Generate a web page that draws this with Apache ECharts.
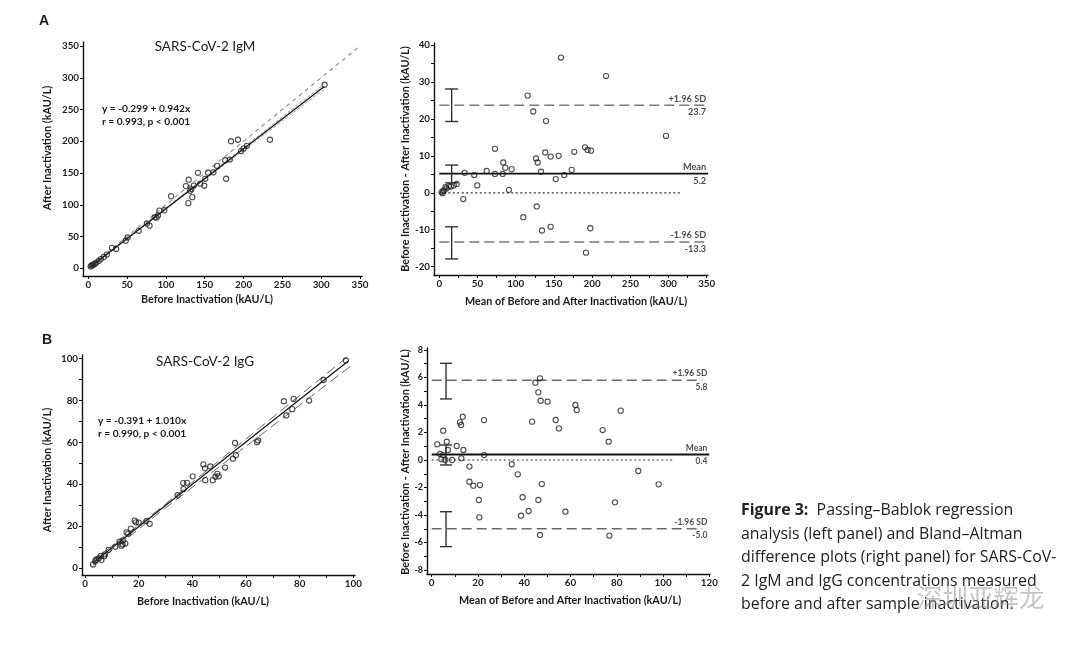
<!DOCTYPE html>
<html><head><meta charset="utf-8">
<script src="https://cdn.jsdelivr.net/npm/echarts@6/dist/echarts.min.js"></script>
<style>html,body{margin:0;padding:0;background:#fff}#c{width:1080px;height:646px}</style>
</head><body><div id="c"></div>
<script>
// ---------- IgM (panel A) ----------
const igmRegBefore = [3.1,4.4,5.5,6.8,8.8,10.3,13.4,16.2,20.0,24.0,30.6,35.9,48.2,50.7,65.0,78.9,75.5,85.6,87.9,89.8,91.6,97.9,106.7,128.9,134.0,131.3,125.7,132.9,136.0,129.3,144.2,149.4,150.7,141.2,154.3,161.2,177.6,166.0,176.4,182.3,196.9,183.9,200.0,192.8,204.3,234.0,304.4];
const igmRegAfter  = [2.9,4.5,5.0,6.2,7.3,9.1,11.6,14.5,18.0,21.6,32.3,30.5,43.4,48.7,59.1,67.0,70.4,80.5,79.7,83.0,90.8,91.5,113.3,102.6,112.0,122.0,129.4,124.7,130.3,139.5,133.3,130.0,140.9,150.4,150.6,151.2,141.0,161.2,170.2,171.2,184.6,200.1,188.4,202.4,192.9,202.4,289.0];
const igmBaMean = [3.0,4.4,5.2,6.5,8.0,9.7,12.5,15.3,19.0,22.8,31.4,33.2,45.8,49.7,62.0,72.9,72.9,83.0,83.8,86.4,91.2,94.7,110.0,115.7,123.0,126.6,127.5,128.8,133.1,134.4,138.7,139.7,145.8,145.8,152.4,156.2,159.3,163.6,173.3,176.7,190.7,192.0,194.2,197.6,198.6,218.2,296.7];
const igmBaDiff = [0.2,-0.1,0.5,0.6,1.5,1.2,1.8,1.7,2.0,2.4,-1.7,5.4,4.8,2.0,5.9,11.9,5.1,5.1,8.2,6.8,0.8,6.4,-6.6,26.3,22.0,9.3,-3.7,8.2,5.7,-10.2,10.9,19.4,9.8,-9.2,3.7,10.0,36.6,4.8,6.2,11.1,12.3,-16.2,11.6,-9.6,11.4,31.6,15.4];
const igmFitLine = [[3,2.5],[304,286.1]];
const igmIdentityLine = [[0,0],[350,350]];
const igmCiUpper = [[3,3.2],[150,142.5],[304,290]];
const igmCiLower = [[3,2.0],[150,139.8],[304,282]];
const igmLimitValues = [23.7, 5.2, -13.3];
const igmLimitNames = ['+1.96 SD','Mean','-1.96 SD'];
const igmErrorBars = [[16.2,19.3,28.1],[16.2,2.7,7.5],[16.2,-17.9,-9.2]];
const igmEquation = ['y = -0.299 + 0.942x','r = 0.993, p < 0.001'];

// ---------- IgG (panel B) ----------
const iggRegBefore = [49.8,47.6,48.6,49.3,52.2,64.1,64.5,83.5,44.8,55.1,56.2,75.0,77.2,24.1,15.0,13.6,14.0,6.1,3.0,7.2,11.3,14.1,22.9,34.5,36.7,16.1,15.5,17.1,20.0,46.7,19.0,38.0,44.7,18.5,36.6,40.1,55.9,77.7,44.1,74.1,88.9,97.2,5.1,7.4,4.2,5.9,8.8,12.9,3.8];
const iggRegAfter  = [43.8,42.0,43.6,45.0,48.0,60.1,60.9,79.9,42.0,52.2,53.9,72.8,75.8,21.2,11.8,10.8,11.4,3.9,1.8,5.8,10.3,13.3,22.5,34.8,37.7,16.5,17.1,18.9,21.8,48.5,21.9,40.7,47.6,22.7,40.6,43.8,59.7,80.7,49.5,79.6,89.7,99.0,4.7,6.6,4.2,5.9,8.8,12.7,3.4];
const iggBaMean = [46.8,44.8,46.1,47.1,50.1,62.1,62.7,81.7,43.4,53.6,55.0,73.9,76.5,22.6,13.4,12.2,12.7,5.0,2.4,6.5,10.8,13.7,22.7,34.6,37.2,16.3,16.3,18.0,20.9,47.6,20.4,39.3,46.1,20.6,38.6,41.9,57.8,79.2,46.8,76.8,89.3,98.1,4.9,7.0,4.2,5.9,8.8,12.8,3.6];
const iggBaDiff = [5.94,5.62,4.92,4.31,4.24,4.0,3.64,3.59,2.79,2.91,2.3,2.18,1.33,2.9,3.15,2.74,2.55,2.13,1.14,1.33,1.02,0.73,0.36,-0.31,-1.04,-0.48,-1.58,-1.87,-1.82,-1.75,-2.91,-2.71,-2.91,-4.17,-4.05,-3.71,-3.76,-3.08,-5.45,-5.5,-0.8,-1.77,0.36,0.73,0.05,0.0,0.0,0.12,0.44];
const iggFitLine = [[3,2.6],[98,98.6]];
const iggCiUpper = [[3,3.6],[30,30.6],[99,102.0]];
const iggCiLower = [[3,1.5],[30,28.8],[99,96.3]];
const iggLimitValues = [5.8, 0.4, -5.0];
const iggLimitNames = ['+1.96 SD','Mean','-1.96 SD'];
const iggErrorBars = [[6.2,4.44,7.03],[6.2,-0.36,1.09],[6.2,-6.3,-3.76]];
const iggEquation = ['y = -0.391 + 1.010x','r = 0.990, p < 0.001'];

// ---------- axis ticks / labels ----------
const igmRegTicks = [0,50,100,150,200,250,300,350];
const igmBaXLabels = [0,50,100,150,200,250,300,350];
const igmBaXTicks = [0,25,50,75,100,125,150,175,200,225,250,275,300,325,350];
const igmBaYLabels = [-20,-10,0,10,20,30,40];
const igmBaYTicks = [-20,-15,-10,-5,0,5,10,15,20,25,30,35,40];
const iggRegLabels = [0,20,40,60,80,100];
const iggRegTicks = [0,10,20,30,40,50,60,70,80,90,100];
const iggBaXLabels = [0,20,40,60,80,100,120];
const iggBaXTicks = [0,10,20,30,40,50,60,70,80,90,100,110,120];
const iggBaYLabels = [-8,-6,-4,-2,0,2,4,6,8];
const iggBaYTicks = [-8,-7,-6,-5,-4,-3,-2,-1,0,1,2,3,4,5,6,7,8];

const captionLines = ['{b|Figure 3:}  Passing\u2013Bablok regression','analysis (left panel) and Bland\u2013Altman','difference plots (right panel) for SARS-CoV-','2 IgM and IgG concentrations measured','before and after sample inactivation.'];

const FONT = 'Lato, "Open Sans", sans-serif';
const INK = '#1b1b1b';

function axis(gi, min, max, labels, ticks, fs) {
  return {
    type:'value', gridIndex:gi, min:min, max:max, scale:true,
    axisLine:{show:true, onZero:false, lineStyle:{color:'#111', width:1.4}},
    axisTick:{show:true, length:3, customValues:ticks, lineStyle:{color:'#111', width:1}},
    axisLabel:{customValues:labels, margin:4, fontSize:fs||9.8, fontWeight:'bold', fontFamily:FONT, color:INK},
    splitLine:{show:false}
  };
}
function zip(xs, ys){ return xs.map((x,i)=>[x, ys[i]]); }
function line(gi, data, color, width, type){
  return {type:'line', xAxisIndex:gi, yAxisIndex:gi, data:data, showSymbol:false, symbol:'none', silent:true,
    lineStyle:{color:color, width:width, type:type||'solid'}, z:2};
}
function scatter(gi, data){
  return {type:'scatter', xAxisIndex:gi, yAxisIndex:gi, data:data, symbol:'circle', symbolSize:5.2, silent:true,
    itemStyle:{color:'rgba(255,255,255,0)', borderColor:'#222', borderWidth:1.1}, z:5};
}
function errorBars(gi, data, half){
  return {type:'custom', xAxisIndex:gi, yAxisIndex:gi, data:data, silent:true, z:4,
    renderItem:function(params, api){
      const x = api.value(0), lo = api.value(1), hi = api.value(2);
      const a = api.coord([x, lo]), b = api.coord([x, hi]);
      const st = {stroke:'#333', lineWidth:1.4};
      return {type:'group', children:[
        {type:'line', shape:{x1:a[0],y1:a[1],x2:b[0],y2:b[1]}, style:st},
        {type:'line', shape:{x1:a[0]-half,y1:a[1],x2:a[0]+half,y2:a[1]}, style:st},
        {type:'line', shape:{x1:b[0]-half,y1:b[1],x2:b[0]+half,y2:b[1]}, style:st}
      ]};
    }};
}
function limitLabels(gi, xRight, values, names, fs){
  const data = [];
  values.forEach((v,i)=>{
    data.push({value:[xRight, v], label:{formatter:names[i], position:[0,-1.5], align:'right', verticalAlign:'bottom'}});
    data.push({value:[xRight, v], label:{formatter:v.toFixed(1), position:[0,3], align:'right', verticalAlign:'top'}});
  });
  return {type:'scatter', xAxisIndex:gi, yAxisIndex:gi, data:data, symbol:'circle', symbolSize:1, silent:true,
    itemStyle:{color:'rgba(0,0,0,0)'}, z:6,
    label:{show:true, fontSize:fs, fontFamily:FONT, fontWeight:'bold', color:INK}};
}
function hline(gi, x0, x1, v, color, width, type){ return line(gi, [[x0,v],[x1,v]], color, width, type); }

const series = [
  // A left
  line(0, igmIdentityLine, '#8a8a8a', 1.1, [4,4]),
  line(0, igmCiUpper, '#9a9a9a', 1, [3,2]),
  line(0, igmCiLower, '#9a9a9a', 1, [3,2]),
  line(0, igmFitLine, '#111', 1.2),
  scatter(0, zip(igmRegBefore, igmRegAfter)),
  // A right
  hline(1, 0, 315, 0, '#333', 1.2, [2,2.5]),
  hline(1, 0, 350, igmLimitValues[0], '#7a7a7a', 1.6, [10,5]),
  hline(1, 0, 352, igmLimitValues[1], '#111', 1.6),
  hline(1, 0, 350, igmLimitValues[2], '#7a7a7a', 1.6, [10,5]),
  errorBars(1, igmErrorBars, 6.5),
  scatter(1, zip(igmBaMean, igmBaDiff)),
  limitLabels(1, 350, igmLimitValues, igmLimitNames, 9.2),
  // B left
  line(2, iggCiUpper, '#666', 1, [10,5]),
  line(2, iggCiLower, '#666', 1, [10,5]),
  line(2, iggFitLine, '#111', 1.2),
  scatter(2, zip(iggRegBefore, iggRegAfter)),
  // B right
  hline(3, 0, 104, 0, '#333', 1.2, [2,2.5]),
  hline(3, 0, 117, iggLimitValues[0], '#6a6a6a', 1.3, [10,5]),
  hline(3, 0, 120, iggLimitValues[1], '#111', 1.8),
  hline(3, 0, 117, iggLimitValues[2], '#6a6a6a', 1.3, [10,5]),
  errorBars(3, iggErrorBars, 6),
  scatter(3, zip(iggBaMean, iggBaDiff)),
  limitLabels(3, 119.4, iggLimitValues, iggLimitNames, 8.5)
];

function txt(x, y, text, fs, weight, align, family){
  return {type:'text', x:x, y:y, silent:true,
    style:{text:text, fontSize:fs, fontWeight:weight||'bold', fontFamily:family||FONT, fill:INK, align:align||'center', verticalAlign:'middle'}};
}
function vtxt(x, y, text, fs){
  const t = txt(x, y, text, fs, 'bold');
  t.rotation = Math.PI/2;
  return t;
}

const LETTER = '"Liberation Sans", Arial, sans-serif';
const graphics = [
  txt(44, 21, 'A', 14, 'bold', 'center', LETTER),
  txt(47, 340, 'B', 14, 'bold', 'center', LETTER),
  txt(205, 47, 'SARS-CoV-2 IgM', 13.5, 'normal'),
  txt(205, 362, 'SARS-CoV-2 IgG', 13.5, 'normal'),
  txt(102, 109, igmEquation[0], 10.2, 'bold', 'left'),
  txt(102, 121.5, igmEquation[1], 10.2, 'bold', 'left'),
  txt(98, 420.5, iggEquation[0], 10.2, 'bold', 'left'),
  txt(98, 434, iggEquation[1], 10.2, 'bold', 'left'),
  txt(207, 300, 'Before Inactivation (kAU/L)', 10.8),
  vtxt(47.5, 148, 'After Inactivation (kAU/L)', 10.8),
  txt(576, 301.5, 'Mean of Before and After Inactivation (kAU/L)', 10.8),
  vtxt(406, 159, 'Before Inactivation - After Inactivation (kAU/L)', 10.8),
  txt(203, 601.5, 'Before Inactivation (kAU/L)', 10.8),
  vtxt(48, 470, 'After Inactivation (kAU/L)', 10.8),
  txt(570, 601, 'Mean of Before and After Inactivation (kAU/L)', 10.8),
  vtxt(406, 462, 'Before Inactivation - After Inactivation (kAU/L)', 10.8),
  {type:'text', x:741, y:499, silent:true,
    style:{text:captionLines.join('\n'), fontSize:15.9, fontFamily:'"Open Sans", sans-serif', fill:'#222', lineHeight:23.5,
      align:'left', verticalAlign:'top',
      rich:{b:{fontWeight:'bold', fontSize:15.9, fontFamily:'"Open Sans", sans-serif', fill:'#222', lineHeight:23.5}}}},
  {type:'text', x:917, y:597, silent:true, z:10,
    style:{text:'深圳亚辉龙', fontSize:25.5, fontFamily:'"Noto Sans CJK SC", sans-serif', fill:'rgba(150,150,150,0.55)', align:'left', verticalAlign:'middle'}}
];

const chart = echarts.init(document.getElementById('c'), null, {renderer:'canvas'});
chart.setOption({
  animation:false,
  backgroundColor:'#fff',
  grid:[
    {left:83, top:42, width:279, height:234},
    {left:434, top:43, width:274, height:232},
    {left:82, top:355, width:273, height:220},
    {left:427, top:348, width:283, height:226}
  ],
  xAxis:[
    axis(0, -6.8, 352.6, igmRegTicks, igmRegTicks),
    axis(1, -6.9, 351.7, igmBaXLabels, igmBaXTicks),
    axis(2, -1.12, 100.6, iggRegLabels, iggRegTicks),
    axis(3, -2.03, 120.3, iggBaXLabels, iggBaXTicks)
  ],
  yAxis:[
    axis(0, -12.1, 356.3, igmRegTicks, igmRegTicks),
    axis(1, -22.25, 40.54, igmBaYLabels, igmBaYTicks),
    axis(2, -3.19, 101.6, iggRegLabels, iggRegTicks),
    axis(3, -8.29, 8.145, iggBaYLabels, iggBaYTicks, 9)
  ],
  series:series,
  graphic:graphics
});
</script></body></html>
